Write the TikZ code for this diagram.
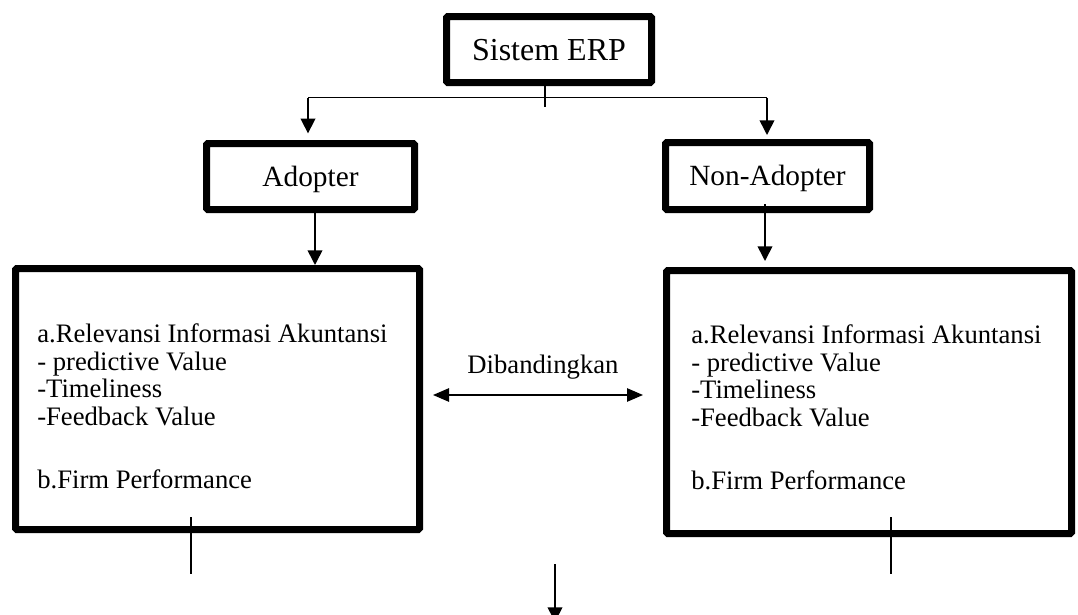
\documentclass[tikz,border=0pt]{standalone}
\usepackage{fontspec}
\setmainfont{Liberation Serif}
\usetikzlibrary{arrows.meta}
\begin{document}
\begin{tikzpicture}[x=0.75pt,y=-0.75pt,
  thickbox/.style={draw, line width=5.25pt, rounded corners=1pt, inner sep=0pt, text depth=0pt},
  bigbox/.style={draw, line width=5.25pt, rounded corners=1pt},
  conn/.style={line width=1.2pt},
  arr/.style={conn, -{Triangle[width=11pt,length=11pt]}},
  dbl/.style={conn, {Triangle[width=10pt,length=12pt]}-{Triangle[width=10pt,length=12pt]}},
  body/.style={font=\fontsize{20}{20.85}\selectfont, align=left, inner sep=0pt}
]
\useasboundingbox (0,0) rectangle (1078,614);
% boxes
\node[thickbox, minimum width=153.75pt, minimum height=49.5pt, text height=15.8pt, font=\fontsize{24}{28}\selectfont] (erp) at (549,49.5) {Sistem ERP};
\node[thickbox, minimum width=156pt, minimum height=49.5pt, text height=14.5pt, font=\fontsize{22}{26}\selectfont] (adopter) at (310.5,176.5) {Adopter};
\node[thickbox, minimum width=153pt, minimum height=50.25pt, text height=14.5pt, font=\fontsize{22}{26}\selectfont] (nonadopter) at (767.5,176) {Non-Adopter};
\node[bigbox, minimum width=303pt, minimum height=195.75pt] (boxL) at (217.5,399) {};
\node[bigbox, minimum width=303.75pt, minimum height=197.25pt] (boxR) at (869,402) {};
\node[body, anchor=base west] (textL) at (37,488) {a.Relevansi Informasi Akuntansi\\- predictive Value\\-Timeliness\\-Feedback Value\\[25.9pt]b.Firm Performance};
\node[body, anchor=base west] (textR) at (691,489) {a.Relevansi Informasi Akuntansi\\- predictive Value\\-Timeliness\\-Feedback Value\\[25.9pt]b.Firm Performance};
\node[font=\fontsize{20}{24}\selectfont, inner sep=0pt, anchor=base] (cmp) at (543,373) {Dibandingkan};
% coordinates
\coordinate (stubEnd) at (545,107);
\coordinate (jL) at (308,97.5);
\coordinate (jR) at (767,97.5);
\coordinate (xA) at (315,0);
\coordinate (xN) at (765,0);
\coordinate (lineL) at (190.7,574);
\coordinate (lineR) at (891,574);
\coordinate (dn1) at (555,564);
\coordinate (dn2) at (555,622);
\coordinate (cmpL) at (433,395);
\coordinate (cmpR) at (643,395);
% connectors
\draw[conn] (erp.south -| stubEnd) -- (stubEnd);
\draw[conn] (jL) -- (jR);
\draw[arr, shorten >=5pt] (jL) -- (adopter.north -| jL);
\draw[arr, shorten >=3pt] (jR) -- (nonadopter.north -| jR);
\draw[arr] (adopter.south -| xA) -- (boxL.north -| xA);
\draw[arr, shorten <=-6.75pt, shorten >=4.5pt] (nonadopter.south -| xN) -- (boxR.north -| xN);
\draw[conn, shorten <=-12pt] (boxL.south -| lineL) -- (lineL);
\draw[conn, shorten <=-15pt] (boxR.south -| lineR) -- (lineR);
\draw[arr] (dn1) -- (dn2);
\draw[dbl] (cmpL) -- (cmpR);
\end{tikzpicture}
\end{document}
